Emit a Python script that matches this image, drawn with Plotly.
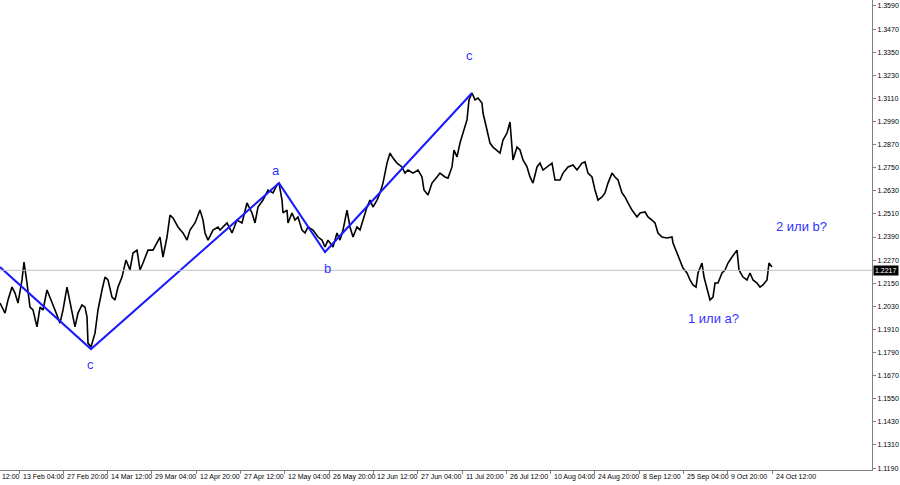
import plotly.graph_objects as go

# bar index (one bar per chart pixel column) and close price
BARS = [0, 5, 8, 12, 15, 18, 22, 24, 27, 30, 33, 37, 40, 43, 47, 50, 55, 60, 63, 67,
        70, 75, 78, 82, 85, 87, 88, 91, 95, 98, 102, 105, 108, 112, 115, 118, 122, 126, 130, 133,
        137, 140, 143, 148, 153, 157, 160, 163, 167, 170, 173, 178, 183, 187, 190, 195, 200, 203, 205, 208,
        213, 218, 220, 227, 232, 237, 242, 247, 252, 255, 258, 263, 268, 273, 277, 279, 282, 283, 287, 288,
        292, 295, 298, 302, 305, 308, 313, 318, 322, 325, 328, 333, 337, 340, 343, 347, 350, 353, 357, 360,
        363, 367, 370, 373, 377, 380, 383, 387, 390, 393, 397, 402, 405, 408, 413, 418, 422, 424, 428, 432,
        437, 440, 445, 448, 452, 454, 457, 460, 463, 467, 469, 472, 475, 478, 482, 483, 487, 490, 493, 497,
        500, 503, 507, 510, 512, 513, 517, 520, 523, 527, 530, 533, 537, 540, 543, 547, 552, 555, 560, 563,
        568, 573, 577, 582, 585, 588, 592, 595, 598, 602, 605, 608, 612, 615, 618, 622, 625, 628, 632, 637,
        640, 645, 648, 652, 655, 658, 662, 667, 672, 673, 677, 680, 683, 687, 690, 693, 696, 698, 702, 704,
        707, 710, 713, 715, 718, 722, 725, 728, 732, 735, 737, 739, 743, 747, 750, 753, 757, 760, 763, 767,
        769, 772]
CLOSE = [1.2047, 1.1995, 1.2063, 1.2130, 1.2099, 1.2047, 1.2167, 1.2260, 1.2151, 1.2026, 1.2011, 1.1923, 1.2026, 1.2011, 1.2115, 1.2078, 1.2011, 1.1943, 1.2011, 1.2130,
         1.2047, 1.1923, 1.1995, 1.2037, 1.2026, 1.1975, 1.1839, 1.1819, 1.1891, 1.2011, 1.2115, 1.2182, 1.2167, 1.2078, 1.2063, 1.2130, 1.2182, 1.2271, 1.2219, 1.2307,
         1.2322, 1.2219, 1.2255, 1.2322, 1.2322, 1.2359, 1.2390, 1.2286, 1.2390, 1.2504, 1.2489, 1.2442, 1.2411, 1.2374, 1.2426, 1.2463, 1.2530, 1.2478, 1.2411, 1.2374,
         1.2426, 1.2442, 1.2426, 1.2463, 1.2411, 1.2478, 1.2463, 1.2567, 1.2515, 1.2463, 1.2546, 1.2582, 1.2634, 1.2619, 1.2660, 1.2670, 1.2582, 1.2515, 1.2530, 1.2463,
         1.2515, 1.2478, 1.2494, 1.2426, 1.2411, 1.2442, 1.2426, 1.2390, 1.2374, 1.2338, 1.2374, 1.2338, 1.2411, 1.2374, 1.2426, 1.2530, 1.2442, 1.2390, 1.2442, 1.2426,
         1.2478, 1.2546, 1.2582, 1.2546, 1.2582, 1.2619, 1.2670, 1.2774, 1.2826, 1.2800, 1.2774, 1.2754, 1.2722, 1.2738, 1.2722, 1.2738, 1.2702, 1.2634, 1.2608, 1.2670,
         1.2702, 1.2722, 1.2702, 1.2696, 1.2754, 1.2842, 1.2806, 1.2878, 1.2930, 1.2998, 1.3102, 1.3138, 1.3102, 1.3112, 1.3086, 1.3034, 1.2946, 1.2878, 1.2857, 1.2842,
         1.2826, 1.2894, 1.2930, 1.2987, 1.2878, 1.2790, 1.2857, 1.2842, 1.2790, 1.2754, 1.2702, 1.2670, 1.2754, 1.2774, 1.2738, 1.2754, 1.2774, 1.2686, 1.2686, 1.2722,
         1.2754, 1.2764, 1.2738, 1.2774, 1.2780, 1.2722, 1.2702, 1.2634, 1.2582, 1.2598, 1.2619, 1.2670, 1.2722, 1.2702, 1.2686, 1.2619, 1.2598, 1.2567, 1.2530, 1.2494,
         1.2515, 1.2520, 1.2494, 1.2478, 1.2463, 1.2411, 1.2390, 1.2385, 1.2390, 1.2359, 1.2307, 1.2271, 1.2229, 1.2203, 1.2167, 1.2141, 1.2130, 1.2203, 1.2255, 1.2182,
         1.2115, 1.2063, 1.2078, 1.2151, 1.2151, 1.2203, 1.2219, 1.2255, 1.2286, 1.2307, 1.2322, 1.2219, 1.2182, 1.2167, 1.2203, 1.2167, 1.2151, 1.2130, 1.2141, 1.2167,
         1.2255, 1.2234]

# wave markup
WAVE_BARS = [0, 91, 279, 325, 472]
WAVE_PRICE = [1.2234, 1.1808, 1.2670, 1.2312, 1.3138]
WAVE_LABELS = ["c", "a", "b", "c", "2 или b?", "1 или a?"]
LABEL_BARS = [90, 276, 327, 469, 801, 713]
LABEL_PRICE = [1.1730, 1.2738, 1.2224, 1.3335, 1.2447, 1.1969]

LAST_PRICE = 1.2217

# price scale
PRICE_TICKS = [1.1190 + 0.012 * i for i in range(21)]

# time scale
DATE_BARS = [-25, 19, 63, 107, 151, 196, 240, 284, 329, 373, 417, 462, 506, 550, 594, 639, 683, 727, 772]
DATE_LABELS = ["29 Jan 12:00", "13 Feb 04:00", "27 Feb 20:00", "14 Mar 12:00", "29 Mar 04:00",
               "12 Apr 20:00", "27 Apr 12:00", "12 May 04:00", "26 May 20:00", "12 Jun 12:00",
               "27 Jun 04:00", "11 Jul 20:00", "26 Jul 12:00", "10 Aug 04:00", "24 Aug 20:00",
               "8 Sep 12:00", "25 Sep 04:00", "9 Oct 20:00", "24 Oct 12:00"]

FONT = "Liberation Sans, Arial"
BLUE = "#1a1aff"


def UpdateLayout(fig):
    fig.update_xaxes(range=[0, 872], showgrid=False, zeroline=False, showline=True, linecolor="#808080",
                     linewidth=1, mirror=False, ticks="outside", ticklen=3, tickcolor="#808080",
                     tickvals=[b for b in DATE_BARS if b >= 0], showticklabels=False)
    fig.update_yaxes(range=[1.1180, 1.3621], side="right", showgrid=False, zeroline=False, showline=True,
                     linecolor="#808080", linewidth=1, ticks="outside", ticklen=3, tickcolor="#808080",
                     tickvals=PRICE_TICKS, ticktext=["%.4f" % t for t in PRICE_TICKS],
                     tickfont=dict(family=FONT, size=7, color="black"), automargin=False)
    fig.update_layout(width=900, height=485, margin=dict(l=0, r=28, t=0, b=15),
                      paper_bgcolor="White", plot_bgcolor="White", showlegend=False)
    return


def GetChart():
    fig = go.Figure()
    UpdateLayout(fig)

    fig.add_hline(y=LAST_PRICE, line=dict(color="#c0c0c0", width=1))

    fig.add_trace(go.Scatter(x=BARS, y=CLOSE, mode="lines", line=dict(color="black", width=1.6)))
    fig.add_trace(go.Scatter(x=WAVE_BARS, y=WAVE_PRICE, mode="lines", line=dict(color=BLUE, width=2)))

    for txt, b, p in zip(WAVE_LABELS, LABEL_BARS, LABEL_PRICE):
        fig.add_annotation(x=b, y=p, text=txt, showarrow=False,
                           font=dict(family=FONT, size=13, color="#3333ff"))

    for txt, b in zip(DATE_LABELS, DATE_BARS):
        # labels whose bar is left of the window are anchored at the edge and shifted out
        x0 = max(b, 0)
        fig.add_annotation(x=x0, y=0, xref="x", yref="paper", yanchor="top", xanchor="left",
                           text=txt, showarrow=False, yshift=-1, xshift=b - x0 + 2,
                           font=dict(family=FONT, size=7, color="black"))

    # last price box on the price scale
    fig.add_annotation(x=1.0, y=LAST_PRICE, xref="paper", yref="y", xanchor="left", xshift=1,
                       text="%.4f" % LAST_PRICE, showarrow=False, bgcolor="black", borderpad=1,
                       font=dict(family=FONT, size=7, color="white"))

    return fig


fig = GetChart()
# page body margin off, so the chart sits at the window corner
fig.write_html("out.html", config={"displayModeBar": False},
               post_script="document.body.style.margin='0';")
